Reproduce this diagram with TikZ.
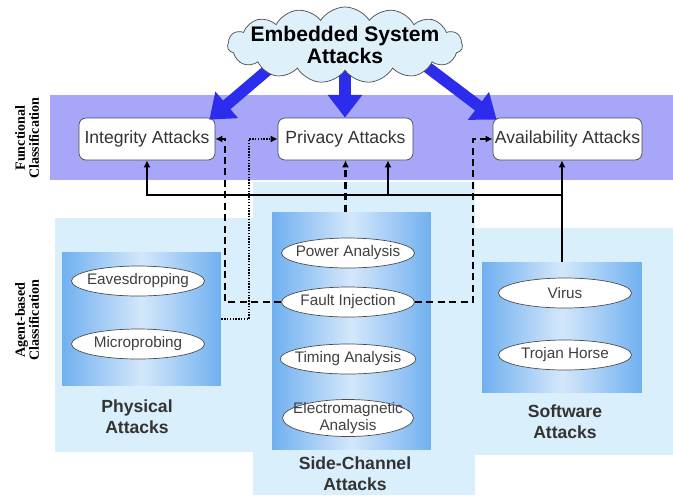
\documentclass[tikz,border=0pt]{standalone}
\usepackage{fontspec}
\setmainfont{Liberation Sans}
\newfontfamily\classfont{Liberation Serif}
\usepackage{tikz}
\usetikzlibrary{arrows.meta,shapes.geometric,shapes.symbols,calc}

\definecolor{bandpurple}{RGB}{168,166,248}
\definecolor{paleblue}{RGB}{218,239,252}
\definecolor{panelblue}{RGB}{112,176,240}
\definecolor{cloudfill}{RGB}{222,240,250}
\definecolor{bigblue}{RGB}{44,44,236}

\tikzset{
	attackbox/.style={draw=gray!60!black,fill=white,rounded corners=4pt,minimum height=0.84cm,inner sep=1pt,font=\fontsize{10}{12}\selectfont,text=black!80},
	attackitem/.style={ellipse,draw=black!70,fill=white,minimum width=2.66cm,minimum height=0.6cm,inner xsep=-3pt,inner ysep=0pt,font=\fontsize{8.7}{9}\selectfont,text=black!75},
	innerpanel/.style={left color=panelblue,right color=panelblue,middle color=white!70!panelblue,inner sep=0pt},
	grouplabel/.style={align=center,font=\bfseries\fontsize{10}{12}\selectfont,text=black!80},
	classlabel/.style={rotate=90,align=center,font=\classfont\bfseries\fontsize{8}{8}\selectfont},
	bigarrow/.style={bigblue,line width=6.5pt,-{Triangle[length=13pt,width=19pt]}},
	busline/.style={black,line width=1.1pt},
	busarrow/.style={busline,-{Latex[length=4pt,width=4pt]}},
	dashlink/.style={black,line width=1.3pt,dash pattern=on 4pt off 2.5pt,-{Latex[length=4pt,width=4pt]}},
	dotlink/.style={black,line width=1.3pt,dash pattern=on 0.8pt off 0.8pt,-{Latex[length=4pt,width=4pt]}}
}

\begin{document}
\begin{tikzpicture}[x=0.02cm,y=-0.02cm]
	\useasboundingbox (0,0) rectangle (673,495);
	
	% classification bands
	\fill[bandpurple] (50,95) rectangle (673,180);
	\fill[paleblue] (55,218) rectangle (253,452);
	\fill[paleblue] (253,182) rectangle (475,495);
	\fill[paleblue] (475,228) rectangle (673,455);
	
	\node[classlabel] (funclab) at (27,138) {Functional\\Classification};
	\node[classlabel] (agentlab) at (27,320) {Agent-based\\Classification};
	
	% agent panels
	\node[innerpanel,minimum width=3.18cm,minimum height=2.68cm] (physin) at (141.5,319) {};
	\node[innerpanel,minimum width=3.18cm,minimum height=4.76cm] (sidein) at (351.5,331) {};
	\node[innerpanel,minimum width=3.2cm,minimum height=2.62cm] (softin) at (562,327.5) {};
	
	% functional classes
	\node[attackbox,minimum width=2.72cm] (integ) at (147,139) {Integrity Attacks};
	\node[attackbox,minimum width=2.7cm] (priv) at (345.5,139) {Privacy Attacks};
	\node[attackbox,minimum width=2.98cm] (avail) at (567.5,139) {Availability Attacks};
	
	% root
	\coordinate (croot) at (345,45);
	\draw[bigarrow] ($(croot)+(-48,0)$) -- ($(integ.north east)+(-6,2)$);
	\draw[bigarrow] (croot) -- (croot |- priv.north);
	\draw[bigarrow] ($(croot)+(53,0)$) -- ($(avail.north west)+(4,2)$);
	\node[cloud,cloud puffs=15,cloud puff arc=115,cloud ignores aspect,draw=gray!60!black,fill=cloudfill,
		minimum width=4.7cm,minimum height=1.52cm,inner xsep=-9pt,inner ysep=-5pt,align=center,
		font=\bfseries\fontsize{12}{12.5}\selectfont] (root) at (croot) {Embedded System\\Attacks};
	
	% attack items
	\node[attackitem] (eaves) at (138,281) {Eavesdropping};
	\node[attackitem] (micro) at (138,344) {Microprobing};
	\node[attackitem] (power) at (348,253) {Power Analysis};
	\node[attackitem] (fault) at (348,302) {Fault Injection};
	\node[attackitem] (timing) at (348,359) {Timing Analysis};
	\node[attackitem,minimum width=2.62cm,minimum height=0.74cm,inner xsep=-8pt,inner ysep=-6pt,align=center,font=\fontsize{8.7}{9.5}\selectfont] (emag) at (348,418) {Electromagnetic\\Analysis};
	\node[attackitem] (virus) at (565,293) {Virus};
	\node[attackitem] (trojan) at (565,355) {Trojan Horse};
	
	\node[grouplabel] (physlab) at (137,417) {Physical\\Attacks};
	\node[grouplabel] (sidelab) at (355,474) {Side-Channel\\Attacks};
	\node[grouplabel] (softlab) at (565,422) {Software\\Attacks};
	
	% links
	\coordinate (busr) at (562,195);
	\coordinate (busp) at (388,195);
	\coordinate (dl) at (225,0);
	\coordinate (dr) at (473,0);
	\coordinate (dt) at (249,0);
	\draw[busarrow] (softin.north) -- (busr) -- (busr -| integ.south) -- (integ.south);
	\draw[busarrow] (busr) -- (busr |- avail.south);
	\draw[busarrow] (busp) -- (busp |- priv.south);
	\draw[dashlink] (fault.west) -| (dl |- integ.east) -- (integ.east);
	\draw[dashlink] (fault.east) -| (dr |- avail.west) -- (avail.west);
	\draw[dashlink] (priv.south |- sidein.north) -- (priv.south);
	\draw[dotlink] (physin.east) -| (dt |- priv.west) -- (priv.west);
	
\end{tikzpicture}
\end{document}
